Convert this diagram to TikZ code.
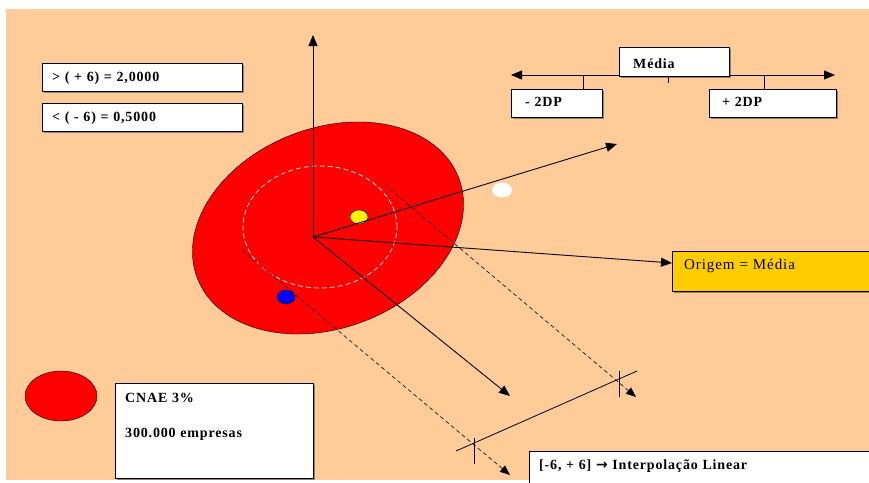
\documentclass[tikz,border=0pt]{standalone}
\usepackage{fontspec}
\setmainfont{Liberation Serif}[LetterSpace=6]
\newfontfamily\symfont{DejaVu Sans}
\usetikzlibrary{arrows.meta, positioning, shapes.geometric, shadows}
\definecolor{bgtan}{HTML}{FFCC99}
\definecolor{gold}{HTML}{FFCC00}

\begin{document}
\begin{tikzpicture}[
  x=1pt, y=-1pt,
  >={Triangle[length=11pt, width=9pt]},
  box/.style={rectangle, draw, fill=white, anchor=north west, inner ysep=0pt, align=left,
    font=\fontsize{14}{16.8}\selectfont\bfseries,
    drop shadow={shadow xshift=1.5pt, shadow yshift=-1.5pt, opacity=0.6, fill=black!70}},
  arr/.style={->, line width=0.9pt},
  dsh/.style={-{Triangle[length=10pt, width=8pt]}, dash pattern=on 4pt off 3pt, line width=0.6pt},
  dot/.style={ellipse, minimum width=18pt, minimum height=14pt, inner sep=0pt}
]
\useasboundingbox (0,0) rectangle (869,482);
\clip (0,0) rectangle (869,482);
\fill[bgtan] (6,9) rectangle (869,480);

% value boxes
\node[box, inner xsep=10pt, text width=180pt, text height=18pt, text depth=10pt] (gt) at (42,63) {> ( + 6) = 2,0000};
\node[box, inner xsep=10pt, text width=180pt, text height=18pt, text depth=10pt] (lt) at (42,103) {< ( - 6) = 0,5000};

% scale of the mean
\coordinate (ml) at (511,75);
\coordinate (mr) at (835,75);
\draw[<->, line width=0.9pt] (ml) -- (mr);
\draw (583,75) -- (583,89);
\draw (668,75) -- (668,83);
\draw (764,75) -- (764,89);
\node[box, inner xsep=14pt, text width=82pt, text height=21pt, text depth=8pt] (media) at (619,47) {Média};
\node[box, inner xsep=14pt, text width=63pt, text height=17pt, text depth=11pt] (lo) at (511,89) {- 2DP};
\node[box, inner xsep=13pt, text width=101pt, text height=17pt, text depth=11pt] (hi) at (709,89) {+ 2DP};

% population
\node[ellipse, draw, fill=red, minimum width=280pt, minimum height=200pt, inner sep=0pt, rotate=21] (cloud) at (328,228) {};
\node[ellipse, draw=white, dash pattern=on 5pt off 3pt, line width=0.7pt, minimum width=154pt, minimum height=122pt, inner sep=0pt] (ring) at (320,227) {};
\node[dot, draw, fill=yellow] (yel) at (359,217) {};
\node[dot, draw, fill=blue] (blu) at (286,297) {};
\node[dot, fill=white, minimum width=20pt, minimum height=15pt] (wht) at (502,190) {};

% axes
\coordinate (O) at (313,237);
\coordinate (up) at (313,35);
\coordinate (ur) at (617,144);
\coordinate (dr) at (510,396);
\coordinate (og) at (672,263);
\draw[arr] (O) -- (up);
\draw[arr] (O) -- (ur);
\draw[arr] (O) -- (dr);
\draw[arr] (O) -- (og);
\node[box, fill=gold, font=\fontsize{15}{18}\selectfont, inner xsep=12pt, text width=196pt, text height=18pt, text depth=22pt] (origem) at (672,251) {Origem = Média};

% projections
\coordinate (p1) at (385,185);
\coordinate (q1) at (636,397);
\coordinate (p2) at (242,250);
\coordinate (q2) at (510,475);
\draw[dsh] (p1) -- (q1);
\draw[dsh] (p2) -- (q2);
\coordinate (s1) at (456,451);
\coordinate (s2) at (637,371);
\draw[line width=0.8pt] (s1) -- (s2);
\draw[line width=0.8pt] (474,438) -- (474,464);
\draw[line width=0.8pt] (619,371) -- (619,397);

% legend
\node[ellipse, draw, fill=red, minimum width=72pt, minimum height=50pt, inner sep=0pt] (leg) at (61,396) {};
\node[box, inner xsep=10pt, text width=178pt, text height=19pt, text depth=76pt] (cnae) at (115,383) {CNAE 3\%\\[18pt]300.000 empresas};
\node[box, inner xsep=10pt, text width=340pt, text height=18pt, text depth=30pt] (interp) at (529,451) {[-6, + 6] {\symfont\bfseries →} Interpolação Linear};
\end{tikzpicture}
\end{document}
